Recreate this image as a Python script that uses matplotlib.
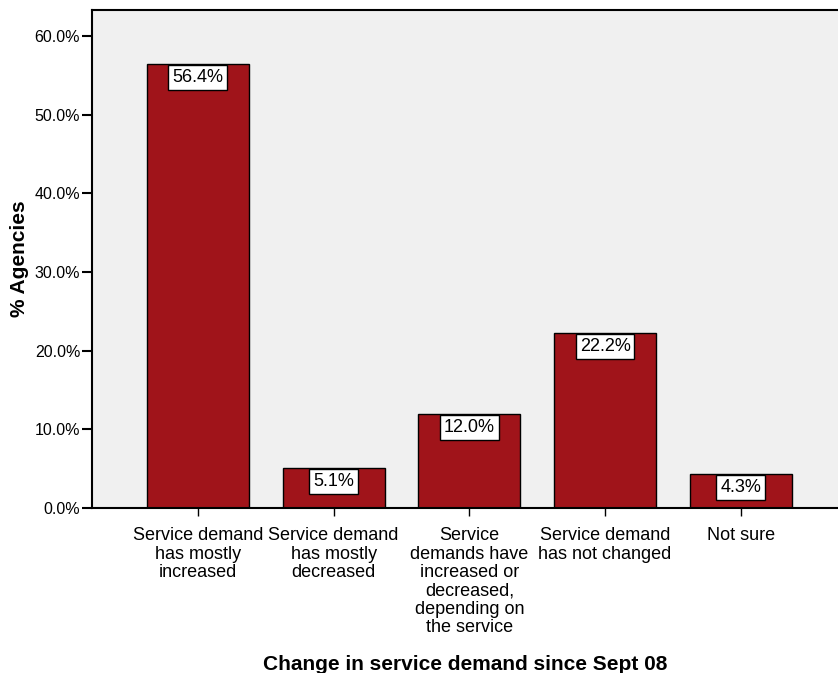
import numpy as np
import matplotlib.pyplot as plt
from matplotlib.ticker import FuncFormatter

plt.rcParams['font.family'] = ['Liberation Sans', 'DejaVu Sans']

categories = ['Service demand\nhas mostly\nincreased',
              'Service demand\nhas mostly\ndecreased',
              'Service\ndemands have\nincreased or\ndecreased,\ndepending on\nthe service',
              'Service demand\nhas not changed',
              'Not sure']
values = [56.4, 5.1, 12.0, 22.2, 4.3]

fig = plt.figure(figsize=(8.38, 6.73), dpi=100)
ax = fig.add_axes([92 / 838, 1 - 508 / 673, 1 - 92 / 838, 498 / 673])
ax.set_facecolor('#f0f0f0')

x = np.arange(len(values))
ax.bar(x, values, width=0.75, color='#a0141a', edgecolor='black', linewidth=1)

# value labels in white boxes just under each bar top
for xi, v in zip(x, values):
    ax.annotate(f'{v:.1f}%', (xi, v), xytext=(0, -3.6), textcoords='offset points',
                ha='center', va='top', fontsize=13,
                bbox=dict(boxstyle='square,pad=0.22', fc='white', ec='black', lw=1))

ax.set_xlim(-0.78, 4.716)
ax.set_ylim(0, 63.3)
ax.set_yticks(np.arange(0, 61, 10))
ax.yaxis.set_major_formatter(FuncFormatter(lambda v, p: f'{v:.1f}%'))
ax.set_xticks(x)
ax.set_xticklabels(categories, fontsize=13, linespacing=1.1)
ax.tick_params(axis='y', labelsize=11.5, length=7, width=1.5, direction='out', pad=1.5)
ax.tick_params(axis='x', length=6, width=1, direction='out', pad=8)

for s in ['left', 'bottom', 'top']:
    ax.spines[s].set_linewidth(1.5)
ax.spines['right'].set_visible(False)

ax.set_ylabel('% Agencies', fontsize=15, fontweight='bold', labelpad=4)
ax.set_xlabel('Change in service demand since Sept 08', fontsize=15,
              fontweight='bold', labelpad=14)

fig.savefig('out.png', dpi=100)
